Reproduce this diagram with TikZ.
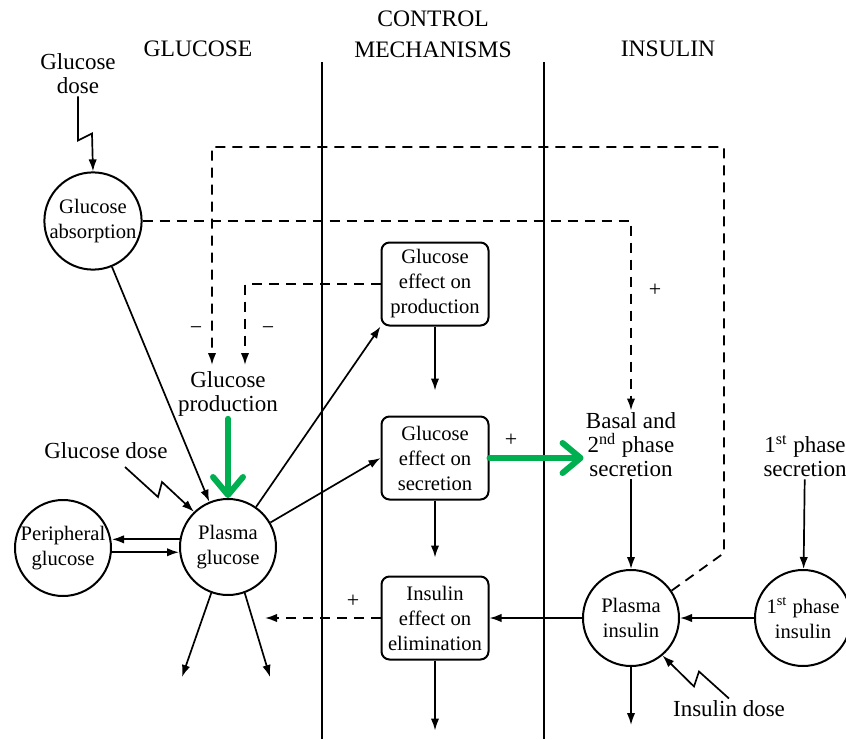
\documentclass[tikz,border=0pt]{standalone}
\usepackage{fontspec}
\setmainfont{Liberation Serif}
\usetikzlibrary{arrows.meta,positioning}
\definecolor{hlgreen}{RGB}{0,176,80}

\begin{document}
\begin{tikzpicture}[x=0.5pt, y=-0.5pt,
    pool/.style={circle, draw, line width=1pt, minimum size=48pt, inner sep=0pt, align=center, font=\fontsize{10.3}{12.5}\selectfont},
    ctrl/.style={draw, rounded corners=4pt, line width=1pt, minimum width=53.5pt, minimum height=41.5pt, inner sep=1pt, align=center, font=\fontsize{10.3}{12.5}\selectfont},
    lbl/.style={align=center, inner sep=1pt, font=\fontsize{11.5}{12}\selectfont},
    head/.style={align=center, inner sep=0pt, font=\fontsize{11.8}{15.5}\selectfont},
    sgn/.style={inner sep=0pt, font=\fontsize{11}{11}\selectfont},
    arr/.style={-{Latex[length=6pt,width=4.2pt]}, line width=0.85pt},
    dasharr/.style={arr, line width=0.9pt, dash pattern=on 5pt off 3.5pt},
    garr/.style={-{Straight Barb[round,length=9pt,width=15pt]}, line width=3pt, draw=hlgreen, line cap=round},
    sep/.style={line width=1.1pt}
]
  \useasboundingbox (0,0) rectangle (846,739);
  % Column headings
  \node[head] (hglu) at (198,49) {GLUCOSE};
  \node[head] (hctl) at (433,34) {CONTROL\\MECHANISMS};
  \node[head] (hins) at (668,49) {INSULIN};
  % Column separators
  \coordinate (s1t) at (322,62);
  \coordinate (s1b) at (322,739);
  \coordinate (s2t) at (544,62);
  \coordinate (s2b) at (544,739);
  \draw[sep] (s1t) -- (s1b);
  \draw[sep] (s2t) -- (s2b);
  % Pools
  \node[pool] (gabs) at (93,221) {Glucose\\absorption};
  \node[pool] (pglu) at (228,547) {Plasma\\glucose};
  \node[pool] (perg) at (63,548) {Peripheral\\glucose};
  \node[pool] (pins) at (631,618) {Plasma\\insulin};
  \node[pool] (fins) at (803,618) {1\textsuperscript{st} phase\\insulin};
  % Control mechanisms
  \node[ctrl] (gep) at (435,284) {Glucose\\effect on\\production};
  \node[ctrl] (ges) at (435,458) {Glucose\\effect on\\secretion};
  \node[ctrl] (iee) at (435,618) {Insulin\\effect on\\elimination};
  % Labels
  \node[lbl] (gdose1) at (78,74) {Glucose\\dose};
  \node[lbl] (gdose2) at (106,451) {Glucose dose};
  \node[lbl] (gprod) at (228,394) {Glucose\\production};
  \node[lbl] (basal) at (631,445) {Basal and\\2\textsuperscript{nd} phase\\secretion};
  \node[lbl] (fsec) at (805,456) {1\textsuperscript{st} phase\\secretion};
  \node[lbl] (idose) at (729,709) {Insulin dose};
  % Signs
  \node[sgn] (m1) at (196,331) {−};
  \node[sgn] (m2) at (268,331) {−};
  \node[sgn] (p1) at (655,290) {+};
  \node[sgn] (p2) at (511,440) {+};
  \node[sgn] (p3) at (353,601) {+};
  % Free ends
  \coordinate (gout1) at (182,677);
  \coordinate (gout2) at (270,677);
  \coordinate (gelim) at (265,618);
  \coordinate (fbtop) at (212,147);
  \coordinate (fbkink) at (724,553);
  \coordinate (fbA) at (212,365);
  \coordinate (fbB) at (245,365);
  \coordinate (gz1) at (125,467);
  % Glucose side
  \draw[arr] (gdose1.south) -- ++(0,44) -- ++(14,-7) -- (gabs.north);
  \draw[arr] (gabs) -- (pglu);
  \draw[arr] (gz1) -- ++(33,30) -- ++(4,-15) -- (pglu.134);
  \draw[arr] (pglu.171) -- (pglu.171 -| perg.east);
  \draw[arr] (perg.355) -- (perg.355 -| pglu.west);
  \draw[arr] (pglu.250) -- (gout1);
  \draw[arr] (pglu.290) -- (gout2);
  \draw[garr] (gprod) -- (pglu);
  % Control mechanisms
  \draw[arr] (pglu.55) -- (gep.south west);
  \draw[arr] (pglu.30) -- (ges.west);
  \draw[arr] (gep.south) -- ++(0,64);
  \draw[arr] (ges.south) -- ++(0,57);
  \draw[arr] (iee.south) -- ++(0,70);
  \draw[garr] (ges.east) -- (ges.east -| basal.west);
  \draw[arr] (pins) -- (iee);
  \draw[dasharr] (iee.west) -- (gelim);
  % Insulin side
  \draw[arr] (basal) -- (pins);
  \draw[arr] (fsec) -- (fins);
  \draw[arr] (fins) -- (pins);
  \draw[arr] (pins.south) -- ++(0,58);
  \draw[arr] (idose.north) -- ++(-30,-27) -- ++(-5,15) -- (pins.-50);
  % Feedback paths
  \draw[dasharr] (gabs.east) -| (basal.north);
  \draw[dasharr] (gep.west) -| (fbB);
  \draw[dasharr] (pins.34) -- (fbkink) |- (fbtop) -- (fbA);
\end{tikzpicture}
\end{document}
